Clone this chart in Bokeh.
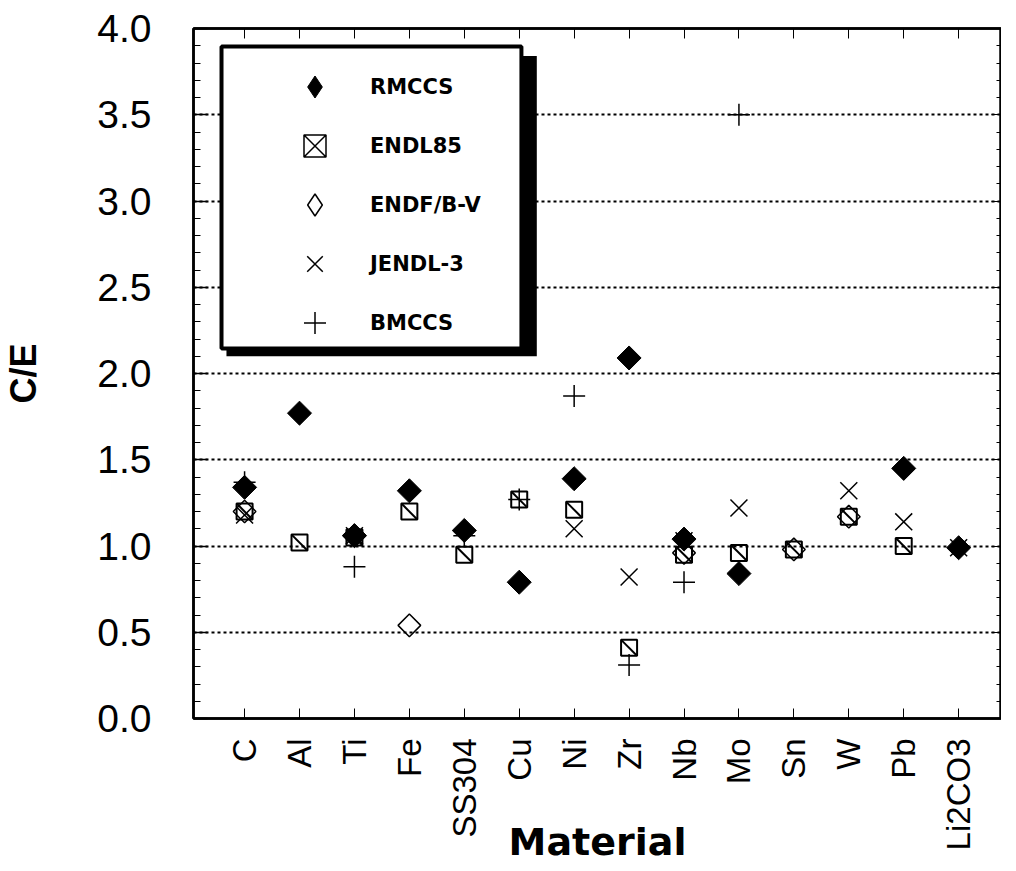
import math
from bokeh.plotting import figure
from bokeh.models import (ColumnDataSource, FixedTicker, SingleIntervalTicker, LinearAxis,
                          Legend, LegendItem, BoxAnnotation, PrintfTickFormatter, Range1d)
from bokeh.embed import file_html
from bokeh.resources import INLINE

nan = float("nan")

# ---- data (C/E ratios) ----
materials = ["C", "Al", "Ti", "Fe", "SS304", "Cu", "Ni", "Zr", "Nb", "Mo", "Sn", "W", "Pb", "Li2CO3"]
rmccs  = [1.34, 1.77, 1.06, 1.32, 1.09, 0.79, 1.39, 2.09, 1.04, 0.84, nan,  nan,  1.45, 0.99]
endl85 = [1.20, 1.02, 1.05, 1.20, 0.95, 1.27, 1.21, 0.41, 0.95, 0.96, 0.98, 1.17, 1.00, nan]
endfb5 = [1.20, nan,  1.06, 0.54, nan,  nan,  nan,  nan,  0.96, nan,  0.98, 1.17, nan,  nan]
jendl3 = [1.18, nan,  1.06, nan,  nan,  nan,  1.10, 0.82, 1.03, 1.22, nan,  1.32, 1.14, 0.99]
bmccs  = [1.37, nan,  0.88, nan,  1.06, 1.27, 1.87, 0.31, 0.79, 3.50, nan,  nan,  nan,  nan]
series_names = ["RMCCS", "ENDL85", "ENDF/B-V", "JENDL-3", "BMCCS"]
y_min, y_max, y_step = 0.0, 4.0, 0.5

idx = list(range(len(materials)))
src = ColumnDataSource(dict(x=idx, rmccs=rmccs, endl85=endl85, endfb5=endfb5,
                            jendl3=jendl3, bmccs=bmccs))

FONT = "Liberation Sans"

p = figure(frame_width=808, frame_height=690,
           x_range=Range1d(-0.93, len(materials) - 1 + 0.78),
           y_range=Range1d(y_min, y_max),
           output_backend="svg", toolbar_location=None,
           min_border_left=189, min_border_top=28, min_border_right=0, min_border_bottom=4)
p.background_fill_color = "white"
p.border_fill_color = "white"
p.outline_line_color = "black"
p.outline_line_width = 2.5

# grid
p.xgrid.visible = False
p.ygrid.grid_line_color = "black"
p.ygrid.grid_line_dash = "3 3"
p.ygrid.grid_line_width = 2

# y axis (left)
ya = p.yaxis[0]
ya.ticker = SingleIntervalTicker(interval=y_step, num_minor_ticks=5)
ya.formatter = PrintfTickFormatter(format="%.1f")
ya.major_tick_in = 14
ya.major_tick_out = 0
ya.minor_tick_in = 7
ya.minor_tick_out = 0
ya.axis_line_width = 2.5
ya.major_tick_line_width = 1.5
ya.major_label_text_font = FONT
ya.major_label_text_font_size = "39px"
ya.major_label_text_color = "black"
ya.major_label_standoff = 42
ya.axis_label = "C/E"
ya.axis_label_text_font = FONT
ya.axis_label_text_font_style = "bold"
ya.axis_label_text_font_size = "36px"
ya.axis_label_text_color = "black"
ya.axis_label_standoff = 50

# x axis (bottom)
xa = p.xaxis[0]
xa.ticker = FixedTicker(ticks=idx, minor_ticks=[])
xa.major_label_overrides = {i: m for i, m in enumerate(materials)}
xa.major_label_orientation = math.pi / 2
xa.major_tick_in = 10
xa.major_tick_out = 0
xa.axis_line_width = 2.5
xa.major_label_text_font = FONT
xa.major_label_text_font_size = "33px"
xa.major_label_text_color = "black"
xa.major_label_standoff = 20
xa.axis_label = "Material"
xa.axis_label_text_font = "DejaVu Sans"
xa.axis_label_text_font_style = "bold"
xa.axis_label_text_font_size = "38px"
xa.axis_label_text_color = "black"
xa.axis_label_standoff = -33

# top and right axes (ticks only)
top = LinearAxis(ticker=FixedTicker(ticks=idx, minor_ticks=[]), major_label_text_font_size="0px",
                 major_tick_in=10, major_tick_out=0, major_label_standoff=0, axis_line_width=2.5)
top.major_label_overrides = {i: "" for i in idx}
p.add_layout(top, "above")
right = LinearAxis(ticker=SingleIntervalTicker(interval=y_step, num_minor_ticks=5),
                   major_label_text_font_size="0px", major_tick_in=10, major_tick_out=0,
                   minor_tick_in=5, minor_tick_out=0, major_label_standoff=0, axis_line_width=2.5)
right.formatter = PrintfTickFormatter(format=" ")
p.add_layout(right, "right")

# legend keys: zero-size twins of each series (the legend draws its own key size)
k_rm = p.scatter("x", "rmccs", source=src, marker="diamond", size=0,
                 fill_color="black", line_color="black")
k_en = p.scatter("x", "endl85", source=src, marker="square_x", size=0, fill_color=None,
                 line_color="black", line_width=1.5)
k_ef = p.scatter("x", "endfb5", source=src, marker="diamond", size=0, fill_color=None,
                 line_color="black", line_width=1.5)
k_je = p.scatter("x", "jendl3", source=src, marker="x", size=0, line_color="black", line_width=1.5)
k_bm = p.scatter("x", "bmccs", source=src, marker="cross", size=0, line_color="black", line_width=1.5)

# data markers
p.scatter("x", "rmccs", source=src, marker="square", angle=math.pi / 4, size=17,
          fill_color="black", line_color="black")
p.scatter("x", "endl85", source=src, marker="square", size=16, fill_color=None,
          line_color="black", line_width=2)
p.scatter("x", "endl85", source=src, marker="dash", angle=-math.pi / 4, size=21,
          line_color="black", line_width=2)
p.scatter("x", "endfb5", source=src, marker="square", angle=math.pi / 4, size=16,
          fill_color=None, line_color="black", line_width=1.5)
p.scatter("x", "jendl3", source=src, marker="x", size=24, line_color="black", line_width=1.5)
p.scatter("x", "bmccs", source=src, marker="cross", size=22, line_color="black", line_width=1.5)

# legend box with drop shadow
shadow = BoxAnnotation(left=-0.33, right=5.32, top=3.84, bottom=2.10,
                       fill_color="black", fill_alpha=1.0, line_alpha=0)
box = BoxAnnotation(left=-0.42, right=5.04, top=3.896, bottom=2.145,
                    fill_color="white", fill_alpha=1.0, line_color="black",
                    line_alpha=1.0, line_width=4)
p.add_layout(shadow)
p.add_layout(box)

items = [LegendItem(label=series_names[0], renderers=[k_rm]),
         LegendItem(label=series_names[1], renderers=[k_en]),
         LegendItem(label=series_names[2], renderers=[k_ef]),
         LegendItem(label=series_names[3], renderers=[k_je]),
         LegendItem(label=series_names[4], renderers=[k_bm])]
legend = Legend(items=items, location=(94, 368), glyph_width=55, glyph_height=55,
                label_height=55, spacing=4, padding=0, margin=0, label_standoff=28,
                background_fill_alpha=0, border_line_alpha=0,
                label_text_font="DejaVu Sans", label_text_font_style="bold",
                label_text_font_size="21px", label_text_color="black")
p.add_layout(legend)

open("out.html", "w").write(file_html(p, INLINE))
